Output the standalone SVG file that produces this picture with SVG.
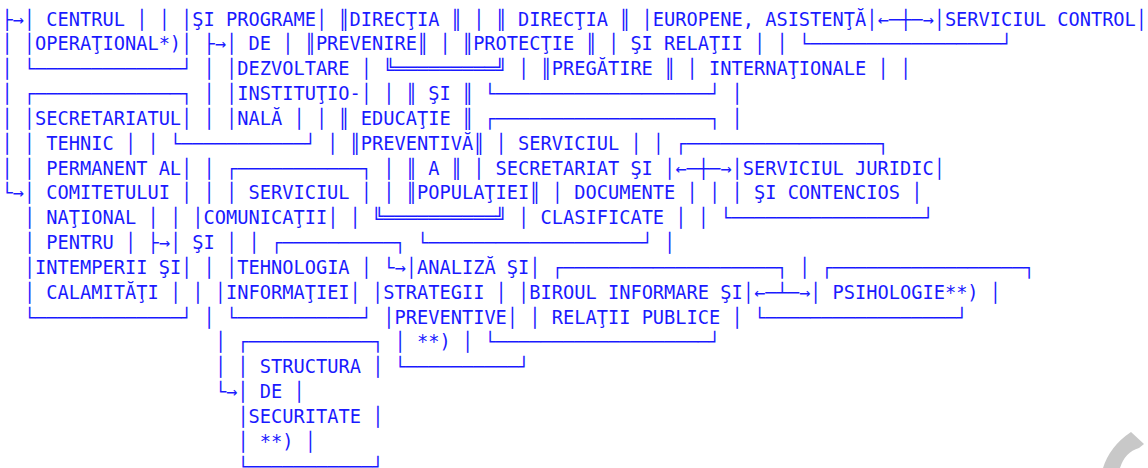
<svg xmlns="http://www.w3.org/2000/svg" width="1148" height="468" viewBox="0 0 1148 468">
<style>
.t{font-family:"DejaVu Sans Mono","Liberation Mono",monospace;font-size:18.667px;fill:#1a1aff;white-space:pre}
</style>
<rect width="1148" height="468" fill="#ffffff"/>
<g id="art" class="t">
<text id="l01" xml:space="preserve" x="1.4" y="25.6">├→│ CENTRUL │ │ │ŞI PROGRAME│ ║DIRECŢIA ║ │ ║ DIRECŢIA ║ │EUROPENE, ASISTENŢĂ│←─┼─→│SERVICIUL CONTROL│</text>
<text id="l02" xml:space="preserve" x="1.4" y="50.4">│ │OPERAŢIONAL*)│ ├→│ DE │ ║PREVENIRE║ │ ║PROTECŢIE ║ │ ŞI RELAŢII │ │ └─────────────────┘</text>
<text id="l03" xml:space="preserve" x="1.4" y="75.3">│ └─────────────┘ │ │DEZVOLTARE │ ╚═════════╝ │ ║PREGĂTIRE ║ │ INTERNAŢIONALE │ │</text>
<text id="l04" xml:space="preserve" x="1.4" y="100.1">│ ┌─────────────┐ │ │INSTITUŢIO-│ │ ║ ŞI ║ └───────────────────┘ │</text>
<text id="l05" xml:space="preserve" x="1.4" y="124.9">│ │SECRETARIATUL│ │ │NALĂ │ │ ║ EDUCAŢIE ║ ┌───────────────────┐ │</text>
<text id="l06" xml:space="preserve" x="1.4" y="149.8">│ │ TEHNIC │ │ └───────────┘ │ ║PREVENTIVĂ║ │ SERVICIUL │ │ ┌─────────────────┐</text>
<text id="l07" xml:space="preserve" x="1.4" y="174.6">│ │ PERMANENT AL│ │ ┌───────────┐ │ ║ A ║ │ SECRETARIAT ŞI │←─┼─→│SERVICIUL JURIDIC│</text>
<text id="l08" xml:space="preserve" x="1.4" y="199.4">└→│ COMITETULUI │ │ │ SERVICIUL │ │ ║POPULAŢIEI║ │ DOCUMENTE │ │ │ ŞI CONTENCIOS │</text>
<text id="l09" xml:space="preserve" x="23.88" y="224.2">│ NAŢIONAL │ │ │COMUNICAŢII│ │ ╚══════════╝ │ CLASIFICATE │ │ └─────────────────┘</text>
<text id="l10" xml:space="preserve" x="23.88" y="249.1">│ PENTRU │ ├→│ ŞI │ │ ┌──────────┐ └───────────────────┘ │</text>
<text id="l11" xml:space="preserve" x="23.88" y="273.9">│INTEMPERII ŞI│ │ │TEHNOLOGIA │ └→│ANALIZĂ ŞI│ ┌───────────────────┐ │ ┌─────────────────┐</text>
<text id="l12" xml:space="preserve" x="23.88" y="298.7">│ CALAMITĂŢI │ │ │INFORMAŢIEI│ │STRATEGII │ │BIROUL INFORMARE ŞI│←─┴─→│ PSIHOLOGIE**) │</text>
<text id="l13" xml:space="preserve" x="23.88" y="323.6">└─────────────┘ │ └───────────┘ │PREVENTIVE│ │ RELAŢII PUBLICE │ └─────────────────┘</text>
<text id="l14" xml:space="preserve" x="214.9" y="348.4">│ ┌───────────┐ │ **) │ └───────────────────┘</text>
<text id="l15" xml:space="preserve" x="214.9" y="373.2">│ │ STRUCTURA │ └──────────┘</text>
<text id="l16" xml:space="preserve" x="214.9" y="398.0">└→│ DE │</text>
<text id="l17" xml:space="preserve" x="237.4" y="422.9">│SECURITATE │</text>
<text id="l18" xml:space="preserve" x="237.4" y="447.7">│ **) │</text>
<text id="l19" xml:space="preserve" x="237.4" y="472.5">└───────────┘</text>
</g>
<g id="watermark">
<path d="M1131,432 L1144,444 L1139,448 Q1125,452 1120,468 L1103,468 Q1110,446 1131,432 Z" fill="#c8c8c8"/>
</g>
</svg>
